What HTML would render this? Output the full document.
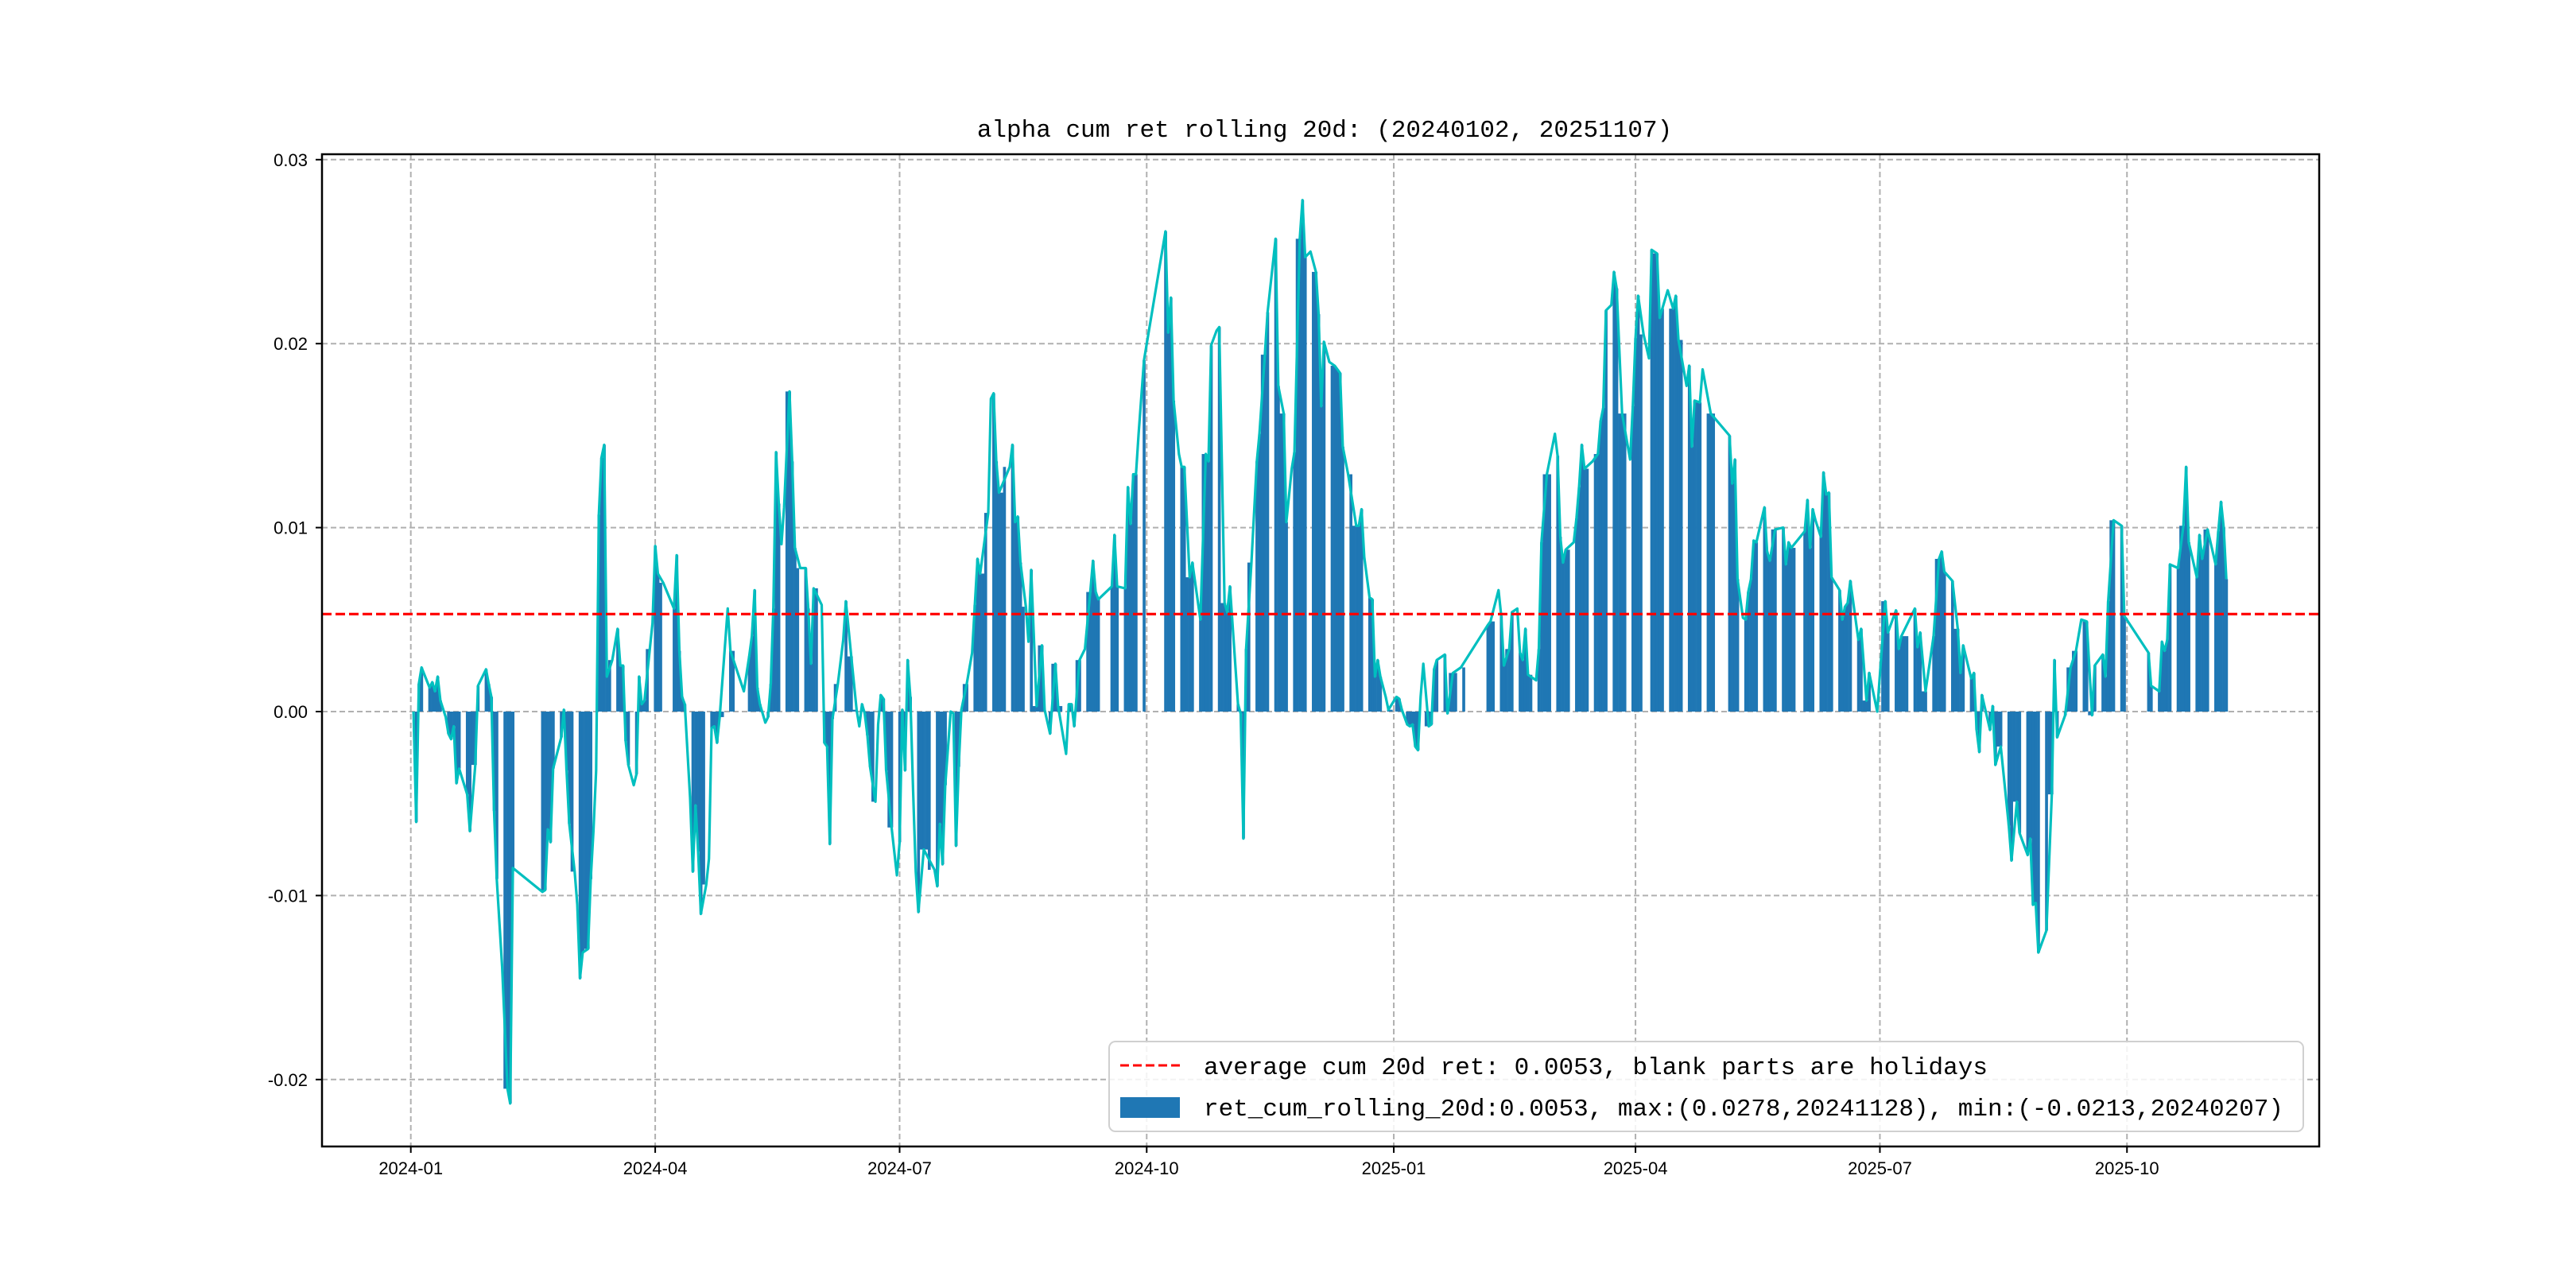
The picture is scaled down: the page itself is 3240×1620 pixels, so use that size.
<!DOCTYPE html>
<html><head><meta charset="utf-8"><style>
body{margin:0;background:#fff}
svg{display:block}
text{font-family:"Liberation Mono","Noto Sans CJK SC",monospace;fill:#000}
text.tk{font-family:"Liberation Sans","Noto Sans CJK SC",sans-serif}
</style></head><body>
<svg id="chart" width="3240" height="1620" viewBox="0 0 3240 1620" xmlns="http://www.w3.org/2000/svg">
<rect width="3240" height="1620" fill="#fff"/>
<text x="1666" y="172" font-size="31" text-anchor="middle">alpha cum ret rolling 20d: (20240102, 20251107)</text>
<g id="grid"></g>
<g id="bars"></g>
<g id="lines"></g>
<rect x="405" y="194" width="2512" height="1248" fill="none" stroke="#000" stroke-width="2.5"/>
<g id="ticks"></g>
<g>
<rect x="1395" y="1310" width="1502" height="113" rx="8" fill="#fff" fill-opacity="0.85" stroke="#d0d0d0" stroke-width="2"/>
<line x1="1409" y1="1340" x2="1484" y2="1340" stroke="#ff0000" stroke-width="3" stroke-dasharray="11,5"/>
<text x="1514" y="1351" font-size="31">average cum 20d ret: 0.0053, blank parts are holidays</text>
<rect x="1409" y="1380" width="75" height="26" fill="#1f77b4"/>
<text x="1514" y="1403" font-size="31">ret_cum_rolling_20d:0.0053, max:(0.0278,20241128), min:(-0.0213,20240207)</text>
</g>
</svg>
<script>
// day numbers since 2024-01-01
const days = [1,2,3,4,7,8,9,10,11,13,14,15,16,17,18,21,22,24,25,28,29,30,31,32,34,36,37,38,49,50,51,52,53,56,57,58,59,61,62,63,64,66,67,68,69,70,71,72,73,75,77,78,79,80,81,83,84,85,86,87,89,90,91,92,94,98,99,100,101,102,104,105,106,107,108,110,111,112,113,114,115,118,119,124,126,127,128,129,130,132,133,134,135,136,137,138,139,141,142,143,145,147,148,149,150,153,154,155,156,157,159,161,162,164,166,167,168,169,170,171,173,174,175,176,177,179,181,182,183,184,185,186,187,188,189,191,195,196,197,198,199,201,202,203,204,205,207,209,210,211,212,215,216,217,218,219,223,224,225,226,227,229,230,231,233,235,236,238,240,241,244,245,246,247,249,251,253,254,255,256,261,262,263,266,267,268,269,270,271,273,281,282,283,284,286,287,288,290,291,294,296,297,298,300,301,303,304,305,308,309,310,311,313,315,316,318,319,322,323,325,326,328,329,331,332,333,335,337,338,339,340,342,344,345,346,347,349,352,353,354,355,357,358,359,360,361,363,364,367,368,369,371,372,373,374,375,376,377,379,380,381,382,385,386,388,391,401,402,405,406,407,409,410,412,413,414,415,416,419,420,421,423,426,427,428,429,430,433,434,435,436,437,440,442,443,444,445,447,448,449,451,454,455,456,457,459,461,462,464,465,466,468,470,471,472,475,476,477,478,480,481,484,491,492,493,494,496,497,498,499,500,501,504,505,506,508,511,512,513,514,519,520,521,522,523,525,526,527,528,529,532,533,534,535,536,539,540,542,543,546,549,550,553,554,555,560,561,562,564,567,569,570,571,574,576,577,578,581,582,583,584,585,588,589,590,592,595,596,598,599,602,603,604,605,606,609,611,612,613,616,618,620,622,624,626,627,630,631,632,634,637,638,647,648,651,652,653,654,655,658,660,661,662,665,666,667,669,672,673,674,675,676];
const values = [0,-0.0060,0.0015,0.0024,0.0013,0.0016,0.0011,0.0019,0.0006,-0.0003,-0.0012,-0.0015,-0.0008,-0.0039,-0.0031,-0.0045,-0.0065,-0.0029,0.0014,0.0023,0.0015,0.0008,-0.0054,-0.0091,-0.0139,-0.0205,-0.0213,-0.0085,-0.0098,-0.0097,-0.0064,-0.0071,-0.0031,-0.0014,0.0001,-0.0032,-0.0061,-0.0087,-0.0105,-0.0145,-0.0131,-0.0129,-0.0091,-0.0065,-0.0032,0.0107,0.0138,0.0145,0.0019,0.0028,0.0045,0.0025,0.0025,-0.0016,-0.0029,-0.0040,-0.0034,0.0019,0.0004,0.0006,0.0034,0.0048,0.0090,0.0075,0.0070,0.0056,0.0085,0.0033,0.0008,0.0004,-0.0047,-0.0087,-0.0051,-0.0076,-0.0110,-0.0094,-0.0080,-0.0009,-0.0008,-0.0017,-0.0003,0.0056,0.0033,0.0011,0.0030,0.0041,0.0066,0.0013,0.0004,-0.0006,-0.0003,0.0015,0.0056,0.0141,0.0113,0.0091,0.0111,0.0174,0.0136,0.0089,0.0078,0.0078,0.0056,0.0026,0.0067,0.0058,-0.0017,-0.0019,-0.0072,-0.0004,0.0015,0.0039,0.0060,0.0030,0.0001,-0.0008,0.0004,-0.0001,-0.0013,-0.0030,-0.0049,-0.0007,0.0009,0.0007,-0.0032,-0.0063,-0.0089,-0.0071,0.0001,-0.0032,0.0028,0.0008,-0.0042,-0.0087,-0.0109,-0.0075,-0.0086,-0.0095,-0.0061,-0.0083,-0.0040,0.0000,-0.0001,-0.0073,-0.0030,0.0001,0.0015,0.0032,0.0058,0.0083,0.0075,0.0108,0.0170,0.0173,0.0136,0.0119,0.0133,0.0145,0.0103,0.0106,0.0081,0.0057,0.0038,0.0077,0.0003,0.0036,0.0001,-0.0012,0.0026,0.0003,-0.0023,0.0004,0.0004,-0.0008,0.0028,0.0034,0.0065,0.0082,0.0065,0.0061,0.0068,0.0096,0.0068,0.0067,0.0122,0.0102,0.0129,0.0129,0.0151,0.0191,0.0261,0.0206,0.0225,0.0169,0.0140,0.0133,0.0133,0.0073,0.0081,0.0050,0.0140,0.0136,0.0199,0.0207,0.0209,0.0059,0.0054,0.0068,0.0004,-0.0001,-0.0069,0.0034,0.0081,0.0136,0.0151,0.0194,0.0217,0.0257,0.0177,0.0162,0.0103,0.0132,0.0141,0.0257,0.0278,0.0247,0.0250,0.0239,0.0216,0.0166,0.0201,0.0190,0.0188,0.0186,0.0184,0.0144,0.0129,0.0101,0.0101,0.0110,0.0084,0.0062,0.0061,0.0019,0.0028,0.0019,0.0008,0.0001,0.0008,0.0007,0.0001,-0.0007,-0.0008,-0.0007,-0.0019,-0.0021,0.0008,0.0026,-0.0008,-0.0007,0.0023,0.0028,0.0031,-0.0001,0.0021,0.0024,0.0047,0.0049,0.0066,0.0052,0.0025,0.0034,0.0054,0.0056,0.0032,0.0028,0.0045,0.0020,0.0017,0.0034,0.0092,0.0129,0.0151,0.0139,0.0095,0.0081,0.0088,0.0092,0.0105,0.0122,0.0145,0.0132,0.0136,0.0140,0.0158,0.0165,0.0218,0.0221,0.0239,0.0230,0.0162,0.0137,0.0166,0.0203,0.0226,0.0205,0.0192,0.0251,0.0249,0.0214,0.0219,0.0229,0.0219,0.0226,0.0202,0.0177,0.0188,0.0144,0.0169,0.0168,0.0186,0.0162,0.0150,0.0124,0.0137,0.0072,0.0051,0.0050,0.0065,0.0072,0.0093,0.0092,0.0111,0.0087,0.0082,0.0099,0.0100,0.0080,0.0092,0.0089,0.0098,0.0115,0.0089,0.0110,0.0104,0.0095,0.0130,0.0118,0.0119,0.0073,0.0066,0.0050,0.0057,0.0059,0.0071,0.0039,0.0045,0.0006,0.0021,0.0000,0.0060,0.0043,0.0055,0.0034,0.0041,0.0056,0.0035,0.0043,0.0011,0.0041,0.0083,0.0087,0.0076,0.0071,0.0045,0.0021,0.0036,0.0018,0.0021,-0.0010,-0.0022,0.0009,-0.0010,0.0003,-0.0029,-0.0019,-0.0062,-0.0081,-0.0049,-0.0066,-0.0078,-0.0069,-0.0105,-0.0104,-0.0131,-0.0119,-0.0045,0.0028,-0.0014,-0.0002,0.0024,0.0033,0.0050,0.0049,-0.0002,0.0025,0.0031,0.0019,0.0060,0.0104,0.0101,0.0052,0.0032,0.0014,0.0011,0.0038,0.0033,0.0039,0.0080,0.0078,0.0101,0.0133,0.0092,0.0073,0.0096,0.0083,0.0099,0.0080,0.0098,0.0114,0.0100,0.0072];
const avgValue = 0.0053;
const holidays = [0,39,40,41,42,43,44,45,46,94,95,121,122,123,161,259,260,274,275,276,277,278,279,280,366,393,394,395,396,397,398,399,400,459,486,487,488,489,490,518,639,640,641,642,643,644,645,646];
const yTicks = [-0.02,-0.01,0,0.01,0.02,0.03];
const yTickLabels = ["-0.02","-0.01","0.00","0.01","0.02","0.03"];
const xTickDays = [0,91,182,274,366,456,547,639];
const xTickLabels = ["2024-01","2024-04","2024-07","2024-10","2025-01","2025-04","2025-07","2025-10"];

const NS = "http://www.w3.org/2000/svg";
const X0 = 516.7, PXD = 3.378, Y0 = 895, PXV = 23140;
const L = 405, R = 2917, T = 194, B = 1442;
const xs = d => X0 + d * PXD;
const ys = v => Y0 - v * PXV;
function mk(tag, attrs, parent) {
  const e = document.createElementNS(NS, tag);
  for (const k in attrs) e.setAttribute(k, attrs[k]);
  parent.appendChild(e);
  return e;
}
const grid = document.getElementById('grid');
const ticks = document.getElementById('ticks');
yTicks.forEach((v, i) => {
  const y = ys(v);
  const g = mk('line', {x1: L, x2: R, y1: y, y2: y, stroke: '#b0b0b0', 'stroke-width': 2, 'stroke-dasharray': '7,4'}, grid);
  
  
  const t = mk('line', {x1: L - 8, x2: L, y1: y, y2: y, stroke: '#000', 'stroke-width': 2}, ticks);
  
  
  const lb = mk('text', {x: 387, y: y + 8, 'font-size': 22, 'text-anchor': 'end', 'class': 'tk'}, ticks);
  lb.textContent = yTickLabels[i];
  
  
});
xTickDays.forEach((d, i) => {
  const x = xs(d);
  const g = mk('line', {x1: x, x2: x, y1: T, y2: B, stroke: '#b0b0b0', 'stroke-width': 2, 'stroke-dasharray': '7,4'}, grid);
  
  
  const t = mk('line', {x1: x, x2: x, y1: B, y2: B + 8, stroke: '#000', 'stroke-width': 2}, ticks);
  
  
  const lb = mk('text', {x: x, y: B + 35, 'font-size': 22, 'text-anchor': 'middle', 'class': 'tk'}, ticks);
  lb.textContent = xTickLabels[i];
  
  
});
// bars: one per trading day, height from nearest data point
const barsG = document.getElementById('bars');
const hol = new Set(holidays);
let j = 0;
for (let d = days[0]; d <= days[days.length - 1]; d++) {
  if (d % 7 === 5 || d % 7 === 6 || hol.has(d)) continue;
  while (j < days.length - 1 && Math.abs(days[j + 1] - d) <= Math.abs(days[j] - d)) j++;
  const v = values[j];
  const y1 = ys(Math.max(v, 0)), y2 = ys(Math.min(v, 0));
  const r = mk('rect', {x: xs(d) - PXD * 0.5, y: y1, width: PXD * 1.0 + 0.3, height: Math.max(y2 - y1, 0.5), fill: '#1f77b4'}, barsG);
  
  
}
const linesG = document.getElementById('lines');
const pts = days.map((d, i) => xs(d).toFixed(1) + ',' + ys(values[i]).toFixed(1)).join(' ');
const pl = mk('polyline', {points: pts, fill: 'none', stroke: '#00bfbf', 'stroke-width': 3.2, 'stroke-linejoin': 'round'}, linesG);


const al = mk('line', {x1: L, x2: R, y1: ys(avgValue), y2: ys(avgValue), stroke: '#ff0000', 'stroke-width': 3.2, 'stroke-dasharray': '12,5'}, linesG);


</script>
</body></html>
